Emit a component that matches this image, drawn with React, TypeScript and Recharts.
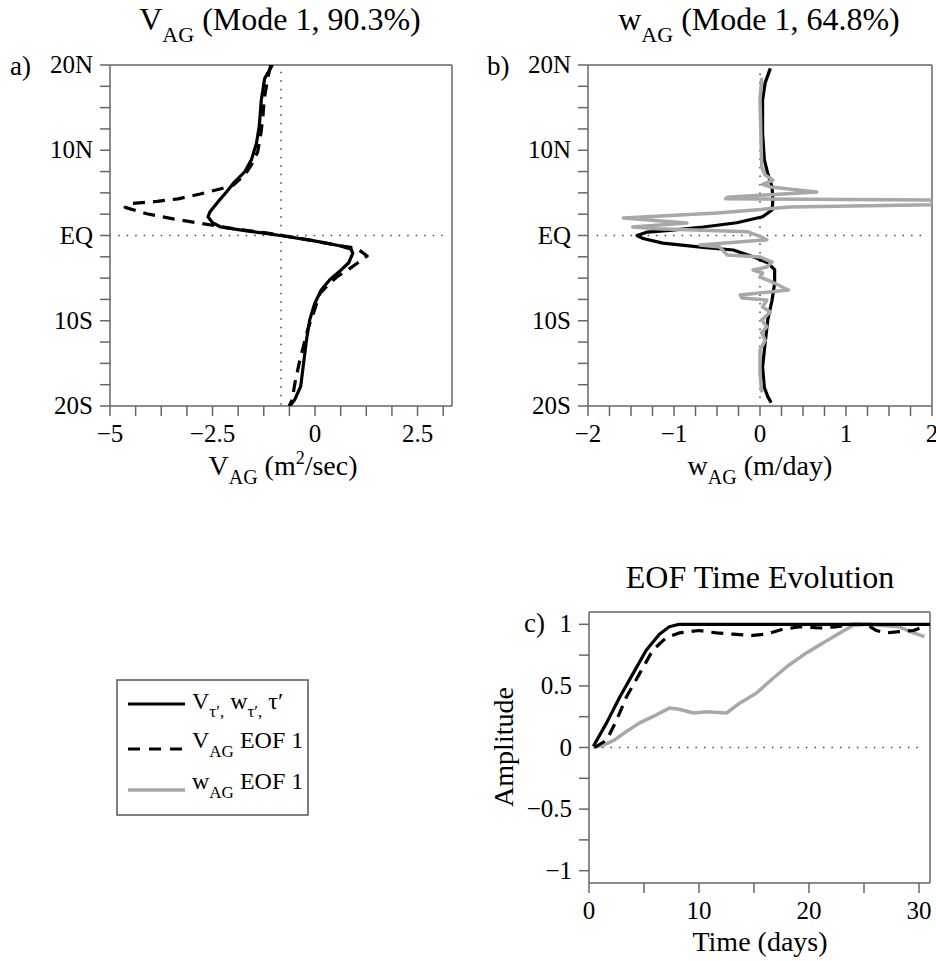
import React from 'react';
import { ScatterChart, Scatter, XAxis, YAxis, ReferenceLine } from 'recharts';

const FONT = '"Liberation Serif", "Times New Roman", serif';

// ---- panel a: V_AG profiles (value vs latitude) ----
const A_SOLID_LAT = [20, 18.4, 15.9, 12.8, 10.8, 8.9, 7.5, 6.3, 5.1, 4.0, 2.8, 2.2, 1.5, 1.0, 0.6, 0.25, 0, -0.6, -1.2, -1.6, -2.1, -3.2, -4.2, -5.2, -6.4, -8.0, -9.9, -12.3, -15.0, -17.7, -19.3, -20];
const A_SOLID_V = [-1.04, -1.23, -1.31, -1.36, -1.43, -1.55, -1.71, -1.96, -2.16, -2.36, -2.56, -2.61, -2.5, -2.3, -1.75, -1.2, -0.85, -0.05, 0.6, 0.88, 0.92, 0.82, 0.6, 0.36, 0.15, -0.01, -0.13, -0.21, -0.28, -0.35, -0.5, -0.62];

const A_DASH_LAT = [20, 18.5, 16, 14, 12, 9.8, 8.3, 7.1, 5.9, 5.45, 4.87, 4.3, 4.0, 3.75, 3.3, 2.55, 1.95, 1.5, 1.2, 0.8, 0.3, 0, -0.65, -1.2, -1.5, -2.4, -3.7, -4.8, -5.8, -6.8, -9.3, -10.9, -14.6, -17.3, -19.3, -20];
const A_DASH_V = [-1.08, -1.15, -1.24, -1.27, -1.32, -1.4, -1.55, -1.71, -2.0, -2.32, -2.8, -3.34, -3.85, -4.5, -4.63, -4.1, -3.46, -2.88, -2.5, -2.0, -1.2, -0.8, 0.0, 0.6, 1.02, 1.27, 0.9, 0.55, 0.32, 0.12, -0.05, -0.17, -0.37, -0.49, -0.56, -0.63];

// ---- panel b: w_AG profiles ----
const B_SOLID_LAT = [19.6, 17.9, 15.9, 12, 8.9, 7.3, 5.7, 4.2, 3.0, 2.2, 1.5, 1.0, 0.6, 0.4, 0, -0.35, -0.9, -1.4, -1.7, -2.5, -3.2, -4.0, -5.6, -7.6, -9.9, -12.6, -15.4, -17.8, -18.9, -19.6];
const B_SOLID_V = [0.12, 0.06, 0.03, 0.03, 0.05, 0.09, 0.14, 0.15, 0.14, 0.03, -0.27, -0.66, -1.05, -1.31, -1.43, -1.36, -1.13, -0.66, -0.31, -0.08, 0.09, 0.17, 0.17, 0.14, 0.09, 0.06, 0.03, 0.05, 0.09, 0.13];

const B_GRAY_LAT = [18.5, 15.9, 12, 8.0, 7.1, 6.5, 6.0, 5.7, 5.1, 4.5, 4.3, 4.15, 3.6, 3.34, 2.64, 2.05, 1.47, 1.0, 0.8, 0.45, -0.1, -0.5, -1.11, -1.35, -2.29, -2.52, -3.11, -3.7, -4.05, -4.4, -4.87, -5.45, -6.39, -6.98, -7.33, -7.57, -8.39, -8.97, -9.91, -10.7, -11.4, -12.3, -13.4, -16.1, -18.4];
const B_GRAY_V = [0.02, 0.0, 0.01, 0.02, 0.06, 0.15, 0.03, 0.12, 0.66, -0.38, -0.4, 2.0, 2.0, 0.35, -0.5, -1.59, -0.85, -1.48, -1.2, -0.15, 0.0, 0.08, -0.7, -0.47, -0.38, 0.0, 0.14, 0.08, -0.08, 0.03, 0.0, 0.14, 0.33, -0.23, -0.21, 0.08, 0.03, 0.12, 0.02, 0.08, 0.02, 0.06, 0.0, 0.0, 0.02];

// ---- panel c: EOF time evolution ----
const C_SOLID_T = [0.4, 1.6, 2.8, 4.0, 5.2, 6.4, 7.3, 8.2, 15, 25, 31];
const C_SOLID_A = [0.01, 0.2, 0.41, 0.6, 0.79, 0.92, 0.98, 1.0, 1.0, 1.0, 1.0];

const C_DASH_T = [0.5, 1.6, 2.5, 3.4, 4.6, 5.8, 7.0, 8.2, 10, 11.6, 13.1, 14.9, 16.1, 17.6, 19.2, 21, 22.5, 24, 25.2, 26.1, 27, 28.2, 29.5, 30.7];
const C_DASH_A = [0.0, 0.06, 0.22, 0.41, 0.6, 0.79, 0.89, 0.93, 0.95, 0.93, 0.92, 0.91, 0.92, 0.96, 0.98, 0.97, 0.98, 1.0, 1.0, 0.95, 0.93, 0.94, 0.95, 0.99];

const C_GRAY_T = [0.4, 1.3, 2.3, 3.4, 4.6, 5.8, 7.3, 8.2, 9.5, 10.7, 12.5, 13.7, 15.2, 16.7, 18.2, 19.8, 21.3, 22.8, 24, 25.2, 26.7, 28.2, 29.5, 30.5];
const C_GRAY_A = [0, 0.02, 0.06, 0.13, 0.2, 0.25, 0.32, 0.31, 0.28, 0.29, 0.28, 0.36, 0.44, 0.56, 0.67, 0.77, 0.85, 0.93, 0.99, 1.0, 0.99, 0.98, 0.93, 0.9];

// tick labels
const LAT_LABELS: Record<string, string> = { '20': '20N', '10': '10N', '0': 'EQ', '-10': '10S', '-20': '20S' };
const A_X_LABELS: Record<string, string> = { '-5': '−5', '-2.5': '−2.5', '0': '0', '2.5': '2.5' };
const B_X_LABELS: Record<string, string> = { '-2': '−2', '-1': '−1', '0': '0', '1': '1', '2': '2' };
const C_X_LABELS: Record<string, string> = { '0': '0', '10': '10', '20': '20', '30': '30' };
const C_Y_LABELS: Record<string, string> = { '1': '1', '0.5': '0.5', '0': '0', '-0.5': '−0.5', '-1': '−1' };

const steps = (from: number, to: number, step: number) => {
  const out: number[] = [];
  for (let k = 0; from + k * step <= to + 1e-9; k++) out.push(+(from + k * step).toFixed(4));
  return out;
};

const LAT_TICKS = steps(-20, 20, 2.5);
const A_X_TICKS = steps(-5, 3.3, 0.625);
const B_X_TICKS = steps(-2, 2, 0.25);
const C_X_TICKS = steps(0, 30, 5);
const C_Y_TICKS = steps(-1, 1, 0.25);

const zip = (ys: number[], xs: number[]) => ys.map((y, i) => ({ y, x: xs[i] }));

const GRAY = '#a8a8a8';
const TICK_FS = 25;
const frame = { stroke: '#666', strokeWidth: 1.5 };
const dotted = { stroke: '#444', strokeWidth: 1.5, strokeDasharray: '1.5 7' };
const noDot = () => <g />;

// custom tick renderers so the serif font and size are applied for sure
const bottomTick = (labels: Record<string, string>) => (p: any) => (
  <text x={p.x} y={p.y} dy={17} textAnchor="middle" fontSize={TICK_FS} fontFamily={FONT} fill="#000">
    {labels[String(p.payload.value)] ?? ''}
  </text>
);
const leftTick = (labels: Record<string, string>) => (p: any) => (
  <text x={p.x} y={p.y} dy={8} textAnchor="end" fontSize={TICK_FS} fontFamily={FONT} fill="#000">
    {labels[String(p.payload.value)] ?? ''}
  </text>
);

function Series({ data, color = '#000', width = 3.2, dash }: { data: any[]; color?: string; width?: number; dash?: string }) {
  return (
    <Scatter
      data={data}
      shape={noDot}
      isAnimationActive={false}
      line={{ stroke: color, strokeWidth: width, strokeDasharray: dash, strokeLinejoin: 'round', fill: 'none' }}
    />
  );
}

function Frame({ xDomain, xTicks, xLabels, yDomain, yTicks, yLabels, yWidth, rWidth, topH }: any) {
  return [
    <XAxis key="xb" type="number" dataKey="x" domain={xDomain} ticks={xTicks} interval={0}
      axisLine={frame} tickLine={frame} tick={bottomTick(xLabels)}
      tickSize={10} tickMargin={9} height={50} allowDataOverflow />,
    <XAxis key="xt" xAxisId="t" orientation="top" type="number" domain={xDomain} ticks={xTicks}
      interval={0} axisLine={frame} tickLine={frame} tick={false} tickSize={10} height={topH} allowDataOverflow />,
    <YAxis key="yl" type="number" dataKey="y" domain={yDomain} ticks={yTicks} interval={0}
      axisLine={frame} tickLine={frame} tick={leftTick(yLabels)}
      tickSize={10} tickMargin={7} width={yWidth} allowDataOverflow />,
    <YAxis key="yr" yAxisId="r" orientation="right" type="number" domain={yDomain} ticks={yTicks}
      interval={0} axisLine={frame} tickLine={frame} tick={false} tickSize={10} width={rWidth} allowDataOverflow />,
  ];
}

function Overlay() {
  const t = { fontFamily: FONT, fill: '#000' };
  return (
    <svg width={936} height={961} style={{ position: 'absolute', left: 0, top: 0, pointerEvents: 'none' }}>
      {/* titles */}
      <text x={280} y={30} textAnchor="middle" fontSize={32} {...t}>
        V<tspan fontSize={22} dy={12}>AG</tspan><tspan dy={-12}> (Mode 1, 90.3%)</tspan>
      </text>
      <text x={759} y={30} textAnchor="middle" fontSize={32} {...t}>
        w<tspan fontSize={22} dy={12}>AG</tspan><tspan dy={-12}> (Mode 1, 64.8%)</tspan>
      </text>
      <text x={760} y={588} textAnchor="middle" fontSize={32} {...t}>EOF Time Evolution</text>

      {/* panel letters */}
      <text x={10} y={75} fontSize={27} {...t}>a)</text>
      <text x={487} y={75} fontSize={27} {...t}>b)</text>
      <text x={524} y={632} fontSize={27} {...t}>c)</text>

      {/* axis titles */}
      <text x={283} y={475} textAnchor="middle" fontSize={28} {...t}>
        V<tspan fontSize={20} dy={9}>AG</tspan><tspan dy={-9}> (m</tspan><tspan fontSize={18} dy={-11}>2</tspan><tspan dy={11}>/sec)</tspan>
      </text>
      <text x={760} y={475} textAnchor="middle" fontSize={28} {...t}>
        w<tspan fontSize={20} dy={9}>AG</tspan><tspan dy={-9}> (m/day)</tspan>
      </text>
      <text x={760} y={951} textAnchor="middle" fontSize={28} {...t}>Time (days)</text>
      <text x={0} y={0} textAnchor="middle" fontSize={28} {...t} transform="translate(513,747) rotate(-90)">Amplitude</text>

      {/* legend */}
      <rect x={117} y={680} width={191} height={135} fill="none" stroke="#555" strokeWidth={1.5} />
      <line x1={128} x2={185} y1={704} y2={704} stroke="#000" strokeWidth={3.2} />
      <line x1={128} x2={185} y1={749} y2={749} stroke="#000" strokeWidth={3.2} strokeDasharray="12 9" />
      <line x1={128} x2={185} y1={790} y2={790} stroke={GRAY} strokeWidth={3.5} />
      <text x={192} y={709} fontSize={24} {...t}>
        V<tspan fontSize={17} dy={8}>τ′,</tspan><tspan dy={-8}> w</tspan><tspan fontSize={17} dy={8}>τ′,</tspan><tspan dy={-8}> τ′</tspan>
      </text>
      <text x={192} y={748} fontSize={24} {...t}>
        V<tspan fontSize={17} dy={9}>AG</tspan><tspan dy={-9}> EOF 1</tspan>
      </text>
      <text x={192} y={789} fontSize={24} {...t}>
        w<tspan fontSize={17} dy={9}>AG</tspan><tspan dy={-9}> EOF 1</tspan>
      </text>
    </svg>
  );
}

export default function App() {
  return (
    <div style={{ position: 'absolute', left: 0, top: 0, width: 936, height: 961, background: '#fff', fontFamily: FONT }}>
      {/* panel a */}
      <div style={{ position: 'absolute', left: 0, top: 0 }}>
        <ScatterChart width={470} height={470} margin={{ top: 50, right: 8, bottom: 14, left: 10 }}>
          {Frame({ xDomain: [-5, 3.34], xTicks: A_X_TICKS, xLabels: A_X_LABELS, yDomain: [-20, 20], yTicks: LAT_TICKS, yLabels: LAT_LABELS, yWidth: 100, rWidth: 10, topH: 15 })}
          <ReferenceLine segment={[{ x: -0.83, y: 19.2 }, { x: -0.83, y: -20 }]} {...dotted} />
          <ReferenceLine segment={[{ x: -4.8, y: 0 }, { x: 3.2, y: 0 }]} {...dotted} />
          {Series({ data: zip(A_DASH_LAT, A_DASH_V), dash: '12 8' })}
          {Series({ data: zip(A_SOLID_LAT, A_SOLID_V) })}
        </ScatterChart>
      </div>

      {/* panel b */}
      <div style={{ position: 'absolute', left: 470, top: 0 }}>
        <ScatterChart width={466} height={470} margin={{ top: 50, right: 0, bottom: 14, left: 10 }}>
          {Frame({ xDomain: [-2, 2], xTicks: B_X_TICKS, xLabels: B_X_LABELS, yDomain: [-20, 20], yTicks: LAT_TICKS, yLabels: LAT_LABELS, yWidth: 108, rWidth: 4, topH: 15 })}
          <ReferenceLine segment={[{ x: 0, y: 19 }, { x: 0, y: -19.5 }]} {...dotted} />
          <ReferenceLine segment={[{ x: -1.9, y: 0 }, { x: 1.92, y: 0 }]} {...dotted} />
          {Series({ data: zip(B_SOLID_LAT, B_SOLID_V) })}
          {Series({ data: zip(B_GRAY_LAT, B_GRAY_V), color: GRAY, width: 3.5 })}
        </ScatterChart>
      </div>

      {/* panel c */}
      <div style={{ position: 'absolute', left: 470, top: 540 }}>
        <ScatterChart width={466} height={421} margin={{ top: 60, right: 0, bottom: 28, left: 10 }}>
          {Frame({ xDomain: [0, 31], xTicks: C_X_TICKS, xLabels: C_X_LABELS, yDomain: [-1.1, 1.1], yTicks: C_Y_TICKS, yLabels: C_Y_LABELS, yWidth: 109, rWidth: 6, topH: 12 })}
          <ReferenceLine segment={[{ x: 0.4, y: 0 }, { x: 30.2, y: 0 }]} {...dotted} />
          {Series({ data: zip(C_GRAY_A, C_GRAY_T), color: GRAY, width: 3.5 })}
          {Series({ data: zip(C_DASH_A, C_DASH_T), dash: '12 8' })}
          {Series({ data: zip(C_SOLID_A, C_SOLID_T) })}
        </ScatterChart>
      </div>

      <Overlay />
    </div>
  );
}
